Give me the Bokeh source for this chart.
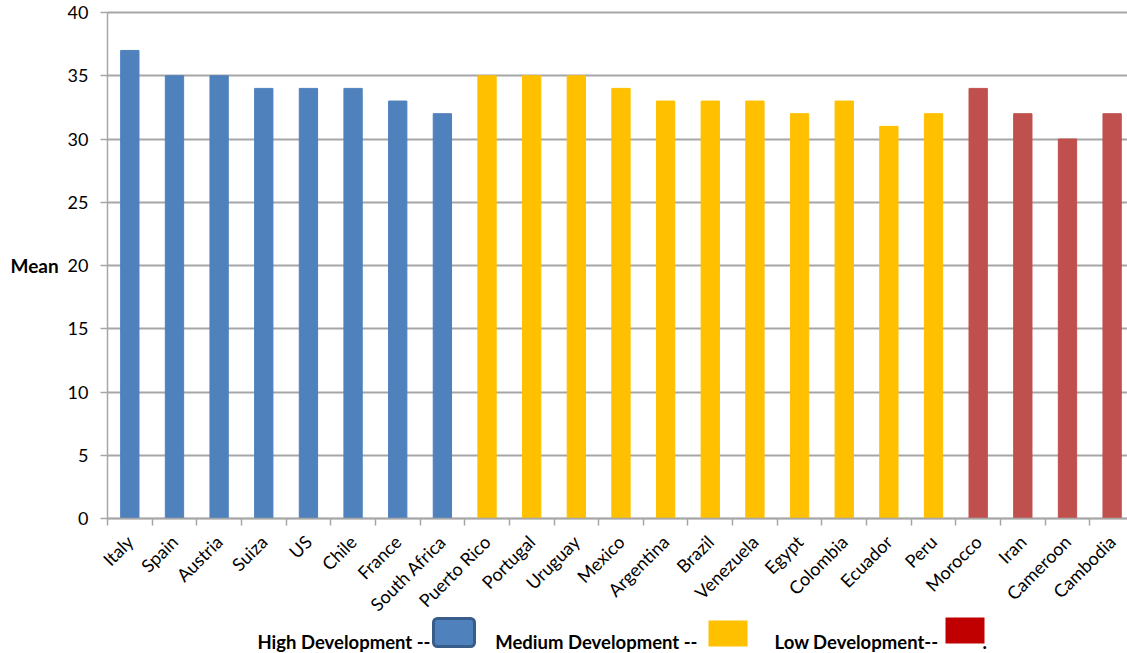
import math
from bokeh.plotting import figure
from bokeh.models import ColumnDataSource, Range1d, FixedTicker
from bokeh.core.properties import value
from bokeh.embed import file_html
from bokeh.resources import INLINE

# Mean score per country, grouped by development level
countries = ["Italy", "Spain", "Austria", "Suiza", "US", "Chile", "France", "South Africa",
             "Puerto Rico", "Portugal", "Uruguay", "Mexico", "Argentina", "Brazil", "Venezuela",
             "Egypt", "Colombia", "Ecuador", "Peru",
             "Morocco", "Iran", "Cameroon", "Cambodia"]
means = [37, 35, 35, 34, 34, 34, 33, 32,
         35, 35, 35, 34, 33, 33, 33, 32, 33, 31, 32,
         34, 32, 30, 32]
levels = ["High", "High", "High", "High", "High", "High", "High", "High",
          "Medium", "Medium", "Medium", "Medium", "Medium", "Medium", "Medium",
          "Medium", "Medium", "Medium", "Medium",
          "Low", "Low", "Low", "Low"]
y_ticks = [0, 5, 10, 15, 20, 25, 30, 35, 40]
y_title = "Mean"

level_colors = {"High": "#4f81bd", "Medium": "#ffc000", "Low": "#c0504d"}

# legend row texts
legend_labels = ["High Development --", "Medium Development --", "Low Development--"]

FONT = "Lato"
GRID = "#a6a6a6"

W, H = 1127, 653
AXIS_X = 107                      # pixel column of the value axis
AXIS_Y = 518                      # pixel row of the value 0
SLOT = 44.65                      # pixels per category slot
PPU = (AXIS_Y - 12) / 40          # pixels per unit of the mean
X_END = (W - AXIS_X) / SLOT
N = len(countries)


def dx(px):
    return (px - AXIS_X) / SLOT


def dy(py):
    return (AXIS_Y - py) / PPU


source = ColumnDataSource(dict(
    x=[i + 0.5 for i in range(N)],
    mean=means,
    color=[level_colors[l] for l in levels],
))

# the frame fills the whole canvas; both axes sit at the data origin
p = figure(width=W, height=H, output_backend="svg", toolbar_location=None,
           x_range=Range1d(dx(0), dx(W)), y_range=Range1d(dy(H), dy(0)),
           min_border=0)
p.outline_line_color = None

p.ygrid.ticker = FixedTicker(ticks=y_ticks)
p.ygrid.grid_line_color = GRID
p.ygrid.grid_line_width = 2
if hasattr(p.ygrid[0], "cross_bounds"):
    p.ygrid.cross_bounds = (0, X_END)
    p.ygrid.bounds = (0, 40)
else:
    p.ygrid.grid_line_color = None
    p.segment(x0=[0] * len(y_ticks), x1=[X_END] * len(y_ticks), y0=y_ticks, y1=y_ticks,
              line_color=GRID, line_width=2)
p.xgrid.grid_line_color = None

p.vbar(x="x", bottom=0, top="mean", width=0.41, color="color", source=source)

# value axis
p.yaxis.fixed_location = 0
p.yaxis.bounds = (0, 40)
p.yaxis.ticker = FixedTicker(ticks=y_ticks)
p.yaxis.axis_line_color = GRID
p.yaxis.axis_line_width = 1.5
p.yaxis.major_tick_line_color = GRID
p.yaxis.major_tick_line_width = 1.5
p.yaxis.major_tick_out = 7
p.yaxis.major_tick_in = 0
p.yaxis.minor_tick_line_color = None
p.yaxis.major_label_standoff = 12
p.yaxis.major_label_text_font = FONT
p.yaxis.major_label_text_font_size = "18px"
p.yaxis.major_label_text_color = "#000000"

# category axis: labels centred in each slot, tick marks on slot boundaries
p.xaxis.fixed_location = 0
p.xaxis.bounds = (0, N)
p.xaxis.ticker = FixedTicker(ticks=[i + 0.5 for i in range(N)],
                             minor_ticks=list(range(N + 1)))
p.xaxis.major_label_overrides = {i + 0.5: c for i, c in enumerate(countries)}
p.xaxis.major_label_orientation = math.pi / 4
p.xaxis.axis_line_color = GRID
p.xaxis.axis_line_width = 1.5
p.xaxis.major_tick_line_color = None
p.xaxis.minor_tick_line_color = GRID
p.xaxis.minor_tick_line_width = 1.5
p.xaxis.minor_tick_out = 7
p.xaxis.minor_tick_in = 0
p.xaxis.major_label_standoff = 13
p.xaxis.major_label_text_font = FONT
p.xaxis.major_label_text_font_size = "18px"
p.xaxis.major_label_text_color = "#000000"

# value-axis title, level with the middle tick
p.text(x=[dx(10)], y=[20], text=[y_title], text_font=value(FONT),
       text_font_size="19px", text_font_style="bold", text_color="#000000",
       text_baseline="middle", text_align="left")

# legend row under the axis labels
p.text(x=[dx(430), dx(697), dx(938)], y=[dy(641)] * 3, text=legend_labels,
       text_font=value(FONT), text_font_size="18.5px", text_font_style="bold",
       text_color="#000000", text_baseline="middle", text_align="right")
p.text(x=[dx(982)], y=[dy(641)], text=["."],
       text_font=value(FONT), text_font_size="18.5px", text_font_style="bold",
       text_color="#000000", text_baseline="middle", text_align="left")
p.quad(left=[dx(433)], right=[dx(474)], top=[dy(618)], bottom=[dy(646)],
       fill_color="#4f81bd", line_color="#385d8a", line_width=3, border_radius=4)
p.quad(left=[dx(708), dx(945)], right=[dx(747), dx(984)],
       top=[dy(620), dy(617)], bottom=[dy(646), dy(643)],
       fill_color=["#ffc000", "#c00000"], line_color=None)

open("out.html", "w").write(file_html(p, INLINE))
